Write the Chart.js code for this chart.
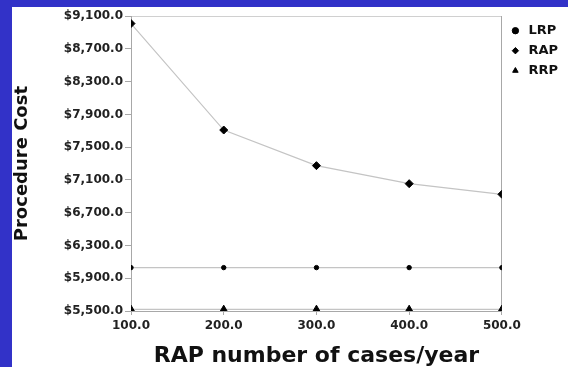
<!DOCTYPE html>
<html>
<head>
<meta charset="utf-8">
<script src="https://cdn.jsdelivr.net/npm/chart.js@4.4.1/dist/chart.umd.min.js"></script>
<style>
  html, body { margin: 0; padding: 0; }
  body { width: 568px; height: 367px; background: #3232c8; position: relative; overflow: hidden; }
  #panel { position: absolute; left: 12px; top: 7px; width: 556px; height: 360px; background: #fff; }
</style>
</head>
<body>
<div id="panel"><canvas id="costChart" width="556" height="360"></canvas></div>
<script>
    "use strict";

    // RAP case volume per year (x axis)
    var caseCounts = [100, 200, 300, 400, 500];

    // procedure cost per approach
    var lrpCost = [6030, 6030, 6030, 6030, 6030];
    var rapCost = [9010, 7710, 7275, 7055, 6925];
    var rrpCost = [5520, 5520, 5520, 5520, 5520];

    var yTicks = [5500, 5900, 6300, 6700, 7100, 7500, 7900, 8300, 8700, 9100];

    var lineGray = "#c4c4c4";
    var axisGray = "#a8a8a8";
    var fontFamily = "'DejaVu Sans', Arial, sans-serif";

    function toPoints(values) {
        return caseCounts.map(function(c, i) {
            return { x: c, y: values[i] };
        });
    }

    function series(label, values, style, radius) {
        return {
            label: label,
            data: toPoints(values),
            borderColor: lineGray,
            borderWidth: 1.2,
            pointStyle: style,
            pointRadius: radius,
            pointBackgroundColor: "#000",
            pointBorderColor: "#000",
            pointBorderWidth: 1,
            tension: 0,
            fill: false
        };
    }

    var ctx = document.getElementById("costChart").getContext("2d");
    var costChart = new Chart(ctx, {
        type: "line",
        data: {
            datasets: [
                series("LRP", lrpCost, "circle", 2.2),
                series("RAP", rapCost, "rectRot", 4),
                series("RRP", rrpCost, "triangle", 4.2)
            ]
        },
        options: {
            responsive: false,
            animation: false,
            layout: { padding: { top: 2, right: 0, bottom: 0, left: 0 } },
            plugins: {
                tooltip: { enabled: false },
                legend: {
                    position: "right",
                    align: "start",
                    // blank title only pushes the entries down a little
                    title: {
                        display: true,
                        text: " ",
                        font: { size: 1 },
                        padding: { top: 0, bottom: 7 }
                    },
                    labels: {
                        usePointStyle: true,
                        boxWidth: 13,
                        boxHeight: 4.5,
                        padding: 7,
                        color: "#111",
                        font: { family: fontFamily, size: 13, weight: "bold" }
                    }
                }
            },
            scales: {
                x: {
                    type: "linear",
                    min: 100,
                    max: 500,
                    afterFit: function(scale) { scale.height = 56; },
                    border: { color: axisGray, width: 1 },
                    grid: { drawOnChartArea: false, color: axisGray, tickLength: 4 },
                    ticks: {
                        stepSize: 100,
                        padding: 4,
                        maxRotation: 0,
                        color: "#222",
                        font: { family: fontFamily, size: 12, weight: "bold" },
                        callback: function(v) { return v.toFixed(1); }
                    },
                    title: {
                        display: true,
                        text: "RAP number of cases/year",
                        color: "#111",
                        padding: { top: 0, bottom: 0 },
                        font: { family: fontFamily, size: 22, weight: "bold", lineHeight: 1 }
                    }
                },
                x2: {
                    type: "linear",
                    position: "top",
                    min: 100,
                    max: 500,
                    afterFit: function(scale) { scale.height = 0; },
                    border: { color: "#d0d0d0", width: 1, dash: [2, 1] },
                    grid: { display: false },
                    ticks: { display: false }
                },
                y: {
                    min: 5500,
                    max: 9100,
                    afterFit: function(scale) { scale.width = 119; },
                    afterBuildTicks: function(scale) {
                        scale.ticks = yTicks.map(function(v) { return { value: v }; });
                    },
                    border: { color: axisGray, width: 1 },
                    grid: { drawOnChartArea: false, color: axisGray, tickLength: 6 },
                    ticks: {
                        padding: 2,
                        color: "#222",
                        font: { family: fontFamily, size: 12, weight: "bold" },
                        callback: function(v) {
                            return "$" + v.toLocaleString("en-US", { minimumFractionDigits: 1, maximumFractionDigits: 1 });
                        }
                    },
                    title: {
                        display: true,
                        text: "Procedure Cost",
                        color: "#111",
                        padding: { top: 0, bottom: 0 },
                        font: { family: fontFamily, size: 18, weight: "bold" }
                    }
                },
                y2: {
                    position: "right",
                    min: 5500,
                    max: 9100,
                    afterFit: function(scale) { scale.width = 0; },
                    border: { color: axisGray, width: 1 },
                    grid: { display: false },
                    ticks: { display: false }
                }
            }
        }
    });
</script>
</body>
</html>
